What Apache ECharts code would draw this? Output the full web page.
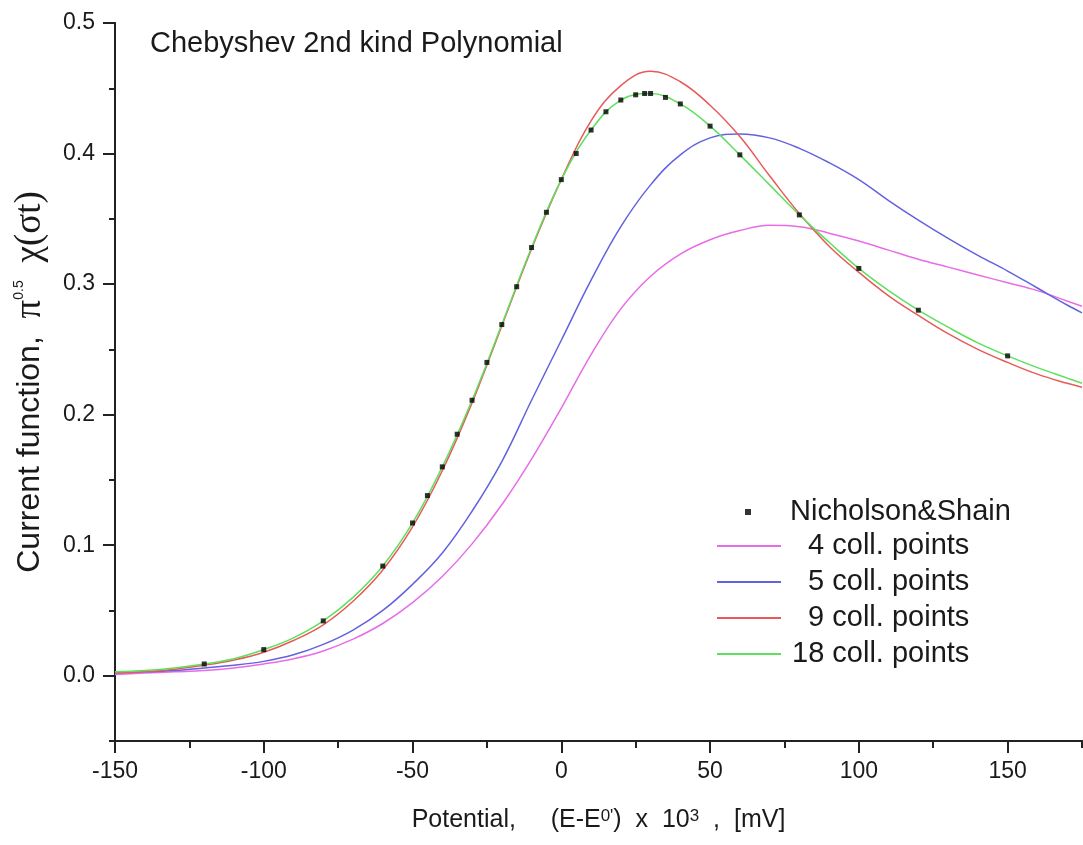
<!DOCTYPE html>
<html>
<head>
<meta charset="utf-8">
<script src="https://cdn.jsdelivr.net/npm/echarts@6/dist/echarts.min.js"></script>
<style>
  html, body { margin: 0; padding: 0; background: #fff; }
  #main { width: 1083px; height: 845px; }
</style>
</head>
<body>
<div id="main"></div>
<script>
// potential grid (mV) shared by the fitted curves
var xGrid = [-150, -140, -130, -120, -110, -100, -90, -80, -70, -60, -50, -40, -30, -20, -10, 0,
  10, 20, 30, 40, 50, 60, 70, 80, 90, 100, 110, 120, 130, 140, 150, 160, 170, 175];

// collocation results
var coll4 = [0.001, 0.002, 0.003, 0.004, 0.006, 0.009, 0.013, 0.019, 0.028, 0.040, 0.056, 0.076, 0.101, 0.131, 0.166, 0.205,
  0.246, 0.281, 0.306, 0.323, 0.334, 0.341, 0.345, 0.344, 0.339, 0.333, 0.326, 0.319, 0.313, 0.307, 0.301, 0.295, 0.287, 0.283];
var coll5 = [0.002, 0.003, 0.004, 0.006, 0.008, 0.011, 0.016, 0.024, 0.035, 0.050, 0.070, 0.094, 0.126, 0.164, 0.211, 0.257,
  0.303, 0.344, 0.376, 0.399, 0.412, 0.415, 0.412, 0.404, 0.393, 0.380, 0.364, 0.349, 0.335, 0.322, 0.310, 0.297, 0.284, 0.278];
var coll9 = [0.002, 0.003, 0.005, 0.008, 0.012, 0.018, 0.027, 0.039, 0.057, 0.081, 0.114, 0.157, 0.209, 0.268, 0.327, 0.380,
  0.425, 0.452, 0.463, 0.455, 0.437, 0.413, 0.383, 0.354, 0.329, 0.309, 0.291, 0.276, 0.262, 0.250, 0.240, 0.231, 0.224, 0.221];
var coll18 = [0.003, 0.004, 0.006, 0.009, 0.013, 0.020, 0.029, 0.042, 0.060, 0.084, 0.117, 0.160, 0.211, 0.269, 0.328, 0.380,
  0.418, 0.441, 0.446, 0.438, 0.421, 0.399, 0.376, 0.353, 0.332, 0.312, 0.295, 0.280, 0.267, 0.255, 0.245, 0.236, 0.228, 0.224];

// Nicholson & Shain tabulated points
var nsX = [-120, -100, -80, -60, -50, -45, -40, -35, -30, -25, -20, -15, -10, -5, 0, 5, 10, 15, 20, 25, 28, 30, 35, 40, 50, 60, 80, 100, 120, 150];
var nsY = [0.009, 0.020, 0.042, 0.084, 0.117, 0.138, 0.160, 0.185, 0.211, 0.240, 0.269, 0.298, 0.328, 0.355, 0.380, 0.400,
  0.418, 0.432, 0.441, 0.445, 0.446, 0.446, 0.443, 0.438, 0.421, 0.399, 0.353, 0.312, 0.280, 0.245];

var xTicks = [-150, -100, -50, 0, 50, 100, 150];
var yTicks = [0, 0.1, 0.2, 0.3, 0.4, 0.5];

function pairs(xs, ys) {
  return xs.map(function (x, i) { return [x, ys[i]]; });
}

var txt = '#1a1a1a';
var axisLine = { show: true, onZero: false, lineStyle: { color: '#222', width: 2 } };

var myChart = echarts.init(document.getElementById('main'));
myChart.setOption({
  animation: false,
  backgroundColor: '#fff',
  textStyle: { fontFamily: 'Liberation Sans, Arial, sans-serif' },
  title: {
    text: 'Chebyshev 2nd kind Polynomial',
    left: 150,
    top: 29,
    padding: 0,
    textStyle: { fontSize: 29, fontWeight: 'normal', color: txt }
  },
  grid: { left: 115, right: 1, top: 23, bottom: 104, outerBoundsMode: 'none' },
  legend: [
    {
      orient: 'vertical',
      left: 745,
      top: 494,
      padding: 0,
      selectedMode: false,
      icon: 'rect',
      itemWidth: 6,
      itemHeight: 6,
      data: ['Nicholson&Shain'],
      textStyle: { fontSize: 29, lineHeight: 36, color: txt, padding: [0, 0, 0, 34] }
    },
    {
      orient: 'vertical',
      left: 717,
      top: 528,
      padding: 0,
      itemGap: 0,
      selectedMode: false,
      icon: 'rect',
      itemWidth: 64,
      itemHeight: 2,
      data: ['  4 coll. points', '  5 coll. points', '  9 coll. points', '18 coll. points'],
      textStyle: { fontSize: 29, lineHeight: 36, color: txt, padding: [0, 0, 0, 6] }
    }
  ],
  xAxis: [
    {
      type: 'value', min: -150, max: 175, interval: 25, position: 'bottom',
      axisLine: axisLine,
      axisTick: { length: 7, lineStyle: { color: '#222', width: 2 } },
      axisLabel: { show: false },
      splitLine: { show: false }
    },
    {
      type: 'value', min: -150, max: 175, position: 'bottom',
      axisLine: axisLine,
      axisTick: { customValues: xTicks, length: 12, lineStyle: { color: '#222', width: 2 } },
      axisLabel: { customValues: xTicks, fontSize: 23, color: txt, margin: 19 },
      splitLine: { show: false },
      name: "Potential,     (E-E{sup|0'})  x  10{sup|3}  ,  [mV]",
      nameLocation: 'middle',
      nameGap: 67,
      nameTextStyle: {
        fontSize: 25, color: txt,
        rich: { sup: { fontSize: 17, verticalAlign: 'top', color: txt } }
      }
    }
  ],
  yAxis: [
    {
      type: 'value', min: -0.05, max: 0.5, interval: 0.05, position: 'left',
      axisLine: axisLine,
      axisTick: { length: 6, lineStyle: { color: '#222', width: 2 } },
      axisLabel: { show: false },
      splitLine: { show: false }
    },
    {
      type: 'value', min: -0.05, max: 0.5, position: 'left',
      axisLine: axisLine,
      axisTick: { customValues: yTicks, length: 12, lineStyle: { color: '#222', width: 2 } },
      axisLabel: {
        customValues: yTicks, fontSize: 23, color: txt, margin: 20,
        formatter: function (v) { return v.toFixed(1); }
      },
      splitLine: { show: false },
      name: 'Current function,  {g|π}{sup|0.5}  {g|χ(σt)}',
      nameLocation: 'middle',
      nameGap: 66,
      nameTextStyle: {
        fontSize: 32, color: txt,
        rich: {
          g: { fontSize: 37, fontFamily: 'Liberation Serif, serif', color: txt },
          sup: { fontSize: 14, verticalAlign: 'top', color: txt }
        }
      }
    }
  ],
  series: [
    {
      name: 'Nicholson&Shain', type: 'scatter', symbol: 'rect', symbolSize: 5,
      itemStyle: { color: '#000' }, data: pairs(nsX, nsY), z: 5
    },
    {
      name: '  4 coll. points', type: 'line', symbol: 'none', smooth: 0.4,
      lineStyle: { color: '#e86ce8', width: 1.5 }, itemStyle: { color: '#e86ce8' }, data: pairs(xGrid, coll4)
    },
    {
      name: '  5 coll. points', type: 'line', symbol: 'none', smooth: 0.4,
      lineStyle: { color: '#6262e0', width: 1.5 }, itemStyle: { color: '#6262e0' }, data: pairs(xGrid, coll5)
    },
    {
      name: '  9 coll. points', type: 'line', symbol: 'none', smooth: 0.4,
      lineStyle: { color: '#e85a5a', width: 1.5 }, itemStyle: { color: '#e85a5a' }, data: pairs(xGrid, coll9)
    },
    {
      name: '18 coll. points', type: 'line', symbol: 'none', smooth: 0.4,
      lineStyle: { color: '#5ee05e', width: 1.5 }, itemStyle: { color: '#5ee05e' }, data: pairs(xGrid, coll18)
    }
  ]
});
</script>
</body>
</html>
